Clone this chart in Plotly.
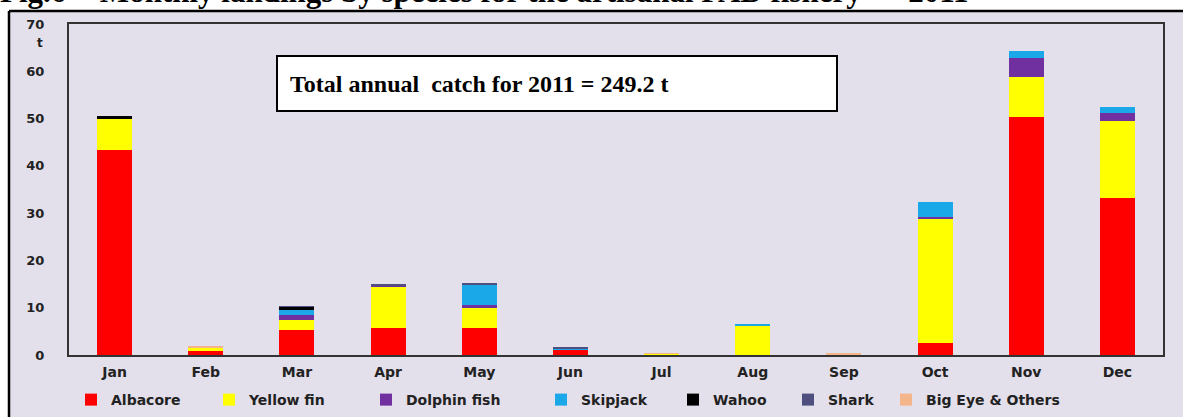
import plotly.graph_objects as go

months = ["Jan", "Feb", "Mar", "Apr", "May", "Jun", "Jul", "Aug", "Sep", "Oct", "Nov", "Dec"]
albacore = [43.3, 0.8, 5.3, 5.7, 5.7, 1.1, 0.0, 0.0, 0.0, 2.5, 50.3, 33.2]
yellow_fin = [6.7, 0.7, 2.1, 8.8, 4.2, 0.0, 0.3, 6.3, 0.0, 26.3, 8.5, 16.3]
dolphin_fish = [0.0, 0.0, 1.0, 0.2, 0.7, 0.0, 0.0, 0.0, 0.0, 0.4, 4.1, 1.6]
skipjack = [0.0, 0.0, 1.1, 0.0, 4.3, 0.2, 0.0, 0.3, 0.0, 3.2, 1.4, 1.4]
wahoo = [0.5, 0.0, 0.7, 0.0, 0.0, 0.0, 0.0, 0.0, 0.0, 0.0, 0.0, 0.0]
shark = [0.0, 0.0, 0.1, 0.4, 0.3, 0.3, 0.0, 0.0, 0.2, 0.0, 0.0, 0.0]
big_eye_others = [0.0, 0.2, 0.0, 0.0, 0.0, 0.0, 0.1, 0.0, 0.1, 0.0, 0.0, 0.0]
y_ticks = [0, 10, 20, 30, 40, 50, 60, 70]

series = [
    ("Albacore", albacore, "#FF0000", 93),
    ("Yellow fin", yellow_fin, "#FFFF00", 112),
    ("Dolphin fish", dolphin_fish, "#7030A0", 130),
    ("Skipjack", skipjack, "#1AA8E8", 87),
    ("Wahoo", wahoo, "#000000", 70),
    ("Shark", shark, "#505080", 53),
    ("Big Eye & Others", big_eye_others, "#F4B58A", 160),
]

BG = "#E3DFEB"
TXT = "#222222"
W, H = 1183, 417
L, R, T, B = 69, 20, 24, 62
PW, PH = W - L - R, H - T - B


def px(x):
    return (x - L) / PW


def py(y):
    return (H - B - y) / PH


fig = go.Figure()
for name, vals, color, lw in series:
    fig.add_trace(go.Bar(
        x=months, y=vals, name=name,
        marker=dict(color=color, line=dict(width=0)),
        legendwidth=lw,
    ))

fig.update_layout(
    width=W, height=H,
    margin=dict(l=L, r=R, t=T, b=B, autoexpand=False),
    barmode="stack",
    bargap=0.616,
    paper_bgcolor=BG,
    plot_bgcolor="rgba(0,0,0,0)",
    font=dict(family="DejaVu Sans", size=13, color=TXT),
    showlegend=True,
    legend=dict(
        orientation="h", x=px(71), xanchor="left", y=py(400), yanchor="middle",
        font=dict(family="DejaVu Sans", size=14, color=TXT, weight="bold"),
        bgcolor="rgba(0,0,0,0)", traceorder="normal",
    ),
    xaxis=dict(
        showgrid=False, showline=True, linecolor="#333333", linewidth=2, mirror=True,
        ticks="", ticklabelstandoff=3,
        tickfont=dict(family="DejaVu Sans", size=14, color=TXT, weight="bold"),
        fixedrange=True,
    ),
    yaxis=dict(
        range=[0, 70], tickvals=y_ticks, showgrid=False, zeroline=False,
        showline=True, linecolor="#333333", linewidth=2, mirror=True,
        ticks="", ticklabelstandoff=20,
        tickfont=dict(family="DejaVu Sans", size=13, color=TXT, weight="bold"),
    ),
)

# white page outside the chart panel (left strip and top strip)
fig.add_shape(type="rect", xref="paper", yref="paper",
              x0=px(-20), x1=px(9), y0=py(H + 20), y1=py(-20),
              fillcolor="white", line=dict(width=0), layer="below")
fig.add_shape(type="rect", xref="paper", yref="paper",
              x0=px(-20), x1=px(W + 20), y0=py(11), y1=py(-20),
              fillcolor="white", line=dict(width=0), layer="below")
# left and top border of the chart panel
fig.add_shape(type="line", xref="paper", yref="paper",
              x0=px(9), x1=px(9), y0=py(H + 20), y1=py(11),
              line=dict(color="black", width=2.5), layer="below")
fig.add_shape(type="line", xref="paper", yref="paper",
              x0=px(9), x1=px(W + 20), y0=py(11), y1=py(11),
              line=dict(color="black", width=2.5), layer="below")

# total box
fig.add_shape(type="rect", xref="paper", yref="paper",
              x0=px(277), x1=px(837), y0=py(111), y1=py(56),
              fillcolor="white", line=dict(color="black", width=2), layer="above")
fig.add_annotation(xref="paper", yref="paper", x=px(288), y=py(84),
                   xanchor="left", yanchor="middle", showarrow=False,
                   text="Total annual\u00a0 catch for 2011 = 249.2 t",
                   font=dict(family="Liberation Serif", size=24, color="black", weight="bold"))

# unit label
fig.add_annotation(xref="paper", yref="y", x=px(40), y=66.0,
                   xanchor="center", yanchor="middle", showarrow=False, text="t",
                   font=dict(family="DejaVu Sans", size=12, color=TXT, weight="bold"))

# cropped title at top
fig.add_annotation(xref="paper", yref="paper", x=px(-2), y=py(-8),
                   xanchor="left", yanchor="middle", showarrow=False,
                   text="Fig.6 \u00a0- Monthly landings by species for the artisanal FAD fishery \u00a0\u2013 \u00a02011",
                   font=dict(family="Liberation Serif", size=31, color="black", weight="bold"))

fig.write_html("out.html")
